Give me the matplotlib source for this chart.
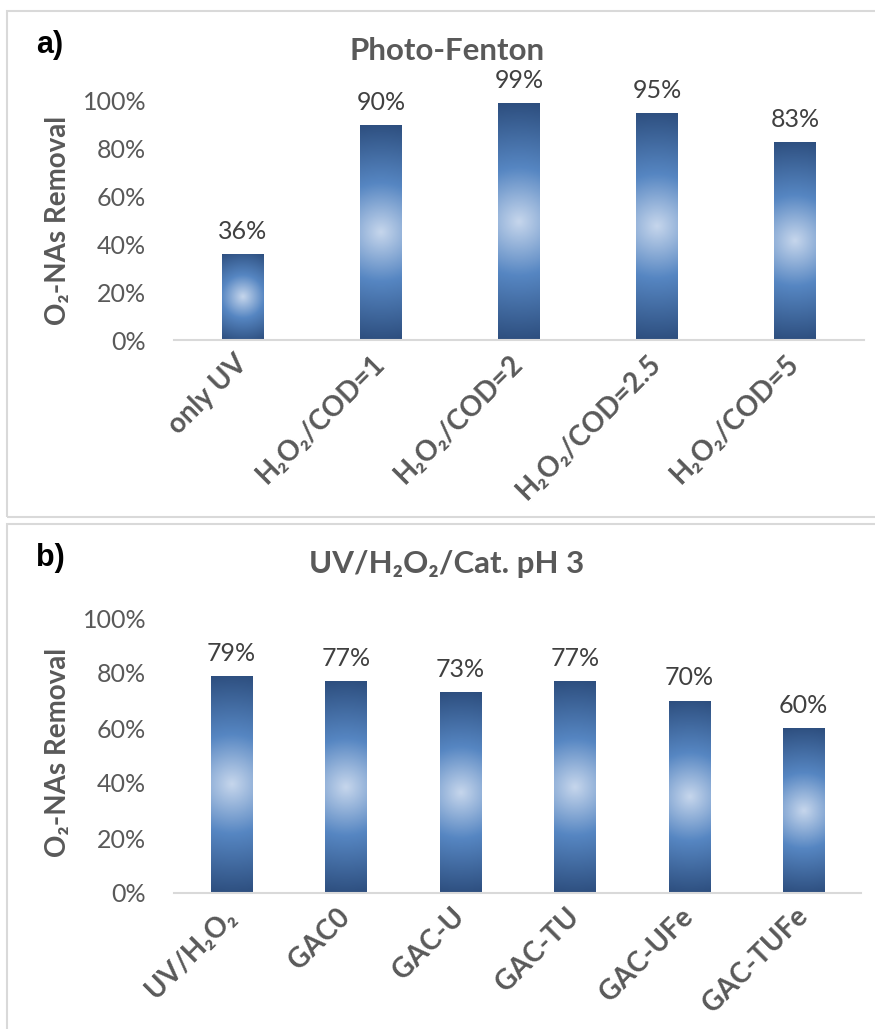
import numpy as np
import matplotlib.pyplot as plt
from matplotlib.colors import LinearSegmentedColormap
from matplotlib.patches import Rectangle

# O2-NAs removal data (%)
fenton_labels = ["only UV", "H\u2082O\u2082/COD=1", "H\u2082O\u2082/COD=2",
                 "H\u2082O\u2082/COD=2.5", "H\u2082O\u2082/COD=5"]
fenton_values = [36, 90, 99, 95, 83]

cat_labels = ["UV/H\u2082O\u2082", "GAC0", "GAC-U", "GAC-TU", "GAC-UFe", "GAC-TUFe"]
cat_values = [79, 77, 73, 77, 70, 60]

FONT = ["Lato", "DejaVu Sans"]
GREY = "#595959"
plt.rcParams["font.family"] = FONT

bar_cmap = LinearSegmentedColormap.from_list(
    "bar_glow", [(0.0, "#c6d6ec"), (0.45, "#5686c2"), (1.0, "#2d4e7e")])

W, H = 875, 1029
fig = plt.figure(figsize=(W / 100, H / 100), dpi=100)


def px(x, y):
    # pixel position (from top-left) -> figure fraction
    return x / W, 1 - y / H


def radial_fill(ax, bars):
    # light centre fading to dark blue edges, computed in screen pixels
    for b in bars:
        x0, w, h = b.get_x(), b.get_width(), b.get_height()
        (p0x, p0y), (p1x, p1y) = ax.transData.transform([(x0, 0), (x0 + w, h)])
        nx, ny = max(int(p1x - p0x), 2), max(int(p1y - p0y), 2)
        gx, gy = np.meshgrid(np.linspace(-nx / 2, nx / 2, nx),
                             np.linspace(-ny / 2, ny / 2, ny))
        r = np.hypot(gx, gy) / np.hypot(nx / 2, ny / 2)
        im = ax.imshow(r, cmap=bar_cmap, vmin=0, vmax=1, origin="lower",
                       extent=(x0, x0 + w, 0, h), aspect="auto",
                       interpolation="bilinear", zorder=2)
        im.set_clip_path(b)
        b.set_facecolor("none")


def panel(rect, labels, values, width, title, tag, box, ylab_y):
    fig.patches.append(Rectangle(px(box[0], box[3]), (box[2] - box[0]) / W,
                                 (box[3] - box[1]) / H, transform=fig.transFigure,
                                 fill=False, edgecolor="#d9d9d9", linewidth=1.5))
    ax = fig.add_axes(rect)
    x = np.arange(len(labels))
    bars = ax.bar(x, [v / 100 for v in values], width=width, zorder=2,
                  edgecolor="none")
    ax.set_xlim(-0.5, len(labels) - 0.5)
    ax.set_ylim(0, 1.0)
    radial_fill(ax, bars)
    ax.bar_label(bars, labels=[f"{v}%" for v in values], padding=8,
                 fontsize=18, color="#404040")

    ax.set_yticks(np.linspace(0, 1, 6))
    ax.set_yticklabels([f"{int(t)}%" for t in range(0, 101, 20)])
    ax.tick_params(axis="y", length=0, pad=20, labelsize=18, labelcolor=GREY)
    ax.set_xticks(x)
    ax.set_xticklabels(labels, rotation=45, ha="right", va="center",
                       rotation_mode="anchor", fontweight="bold")
    ax.tick_params(axis="x", length=0, pad=14, labelsize=20, labelcolor=GREY)
    for s in ["top", "right", "left"]:
        ax.spines[s].set_visible(False)
    ax.spines["bottom"].set_color("#d9d9d9")
    ax.spines["bottom"].set_linewidth(1.5)
    ax.spines["bottom"].set_zorder(3)
    ax.patch.set_visible(False)

    fig.text(*px(447, box[1] + 40), title, ha="center", va="center",
             fontsize=22.5, fontweight="bold", color=GREY)
    fig.text(*px(36, box[1] + 34), tag, ha="left", va="center",
             fontsize=22, fontweight="bold", color="black",
             family=["Liberation Sans", "DejaVu Sans"])
    fig.text(*px(58, ylab_y), "O\u2082-NAs Removal", rotation=90,
             ha="center", va="center", fontsize=20, fontweight="bold", color=GREY)
    return ax


panel([174 / W, (H - 340) / H, 690 / W, 239 / H], fenton_labels, fenton_values,
      0.3, "Photo-Fenton", "a)", (7, 11, 880, 517), 220)
panel([174 / W, (H - 893) / H, 687 / W, 275 / H], cat_labels, cat_values,
      0.36, "UV/H\u2082O\u2082/Cat. pH 3", "b)", (7, 524, 880, 1035), 752)

fig.savefig("out.png", dpi=100)
